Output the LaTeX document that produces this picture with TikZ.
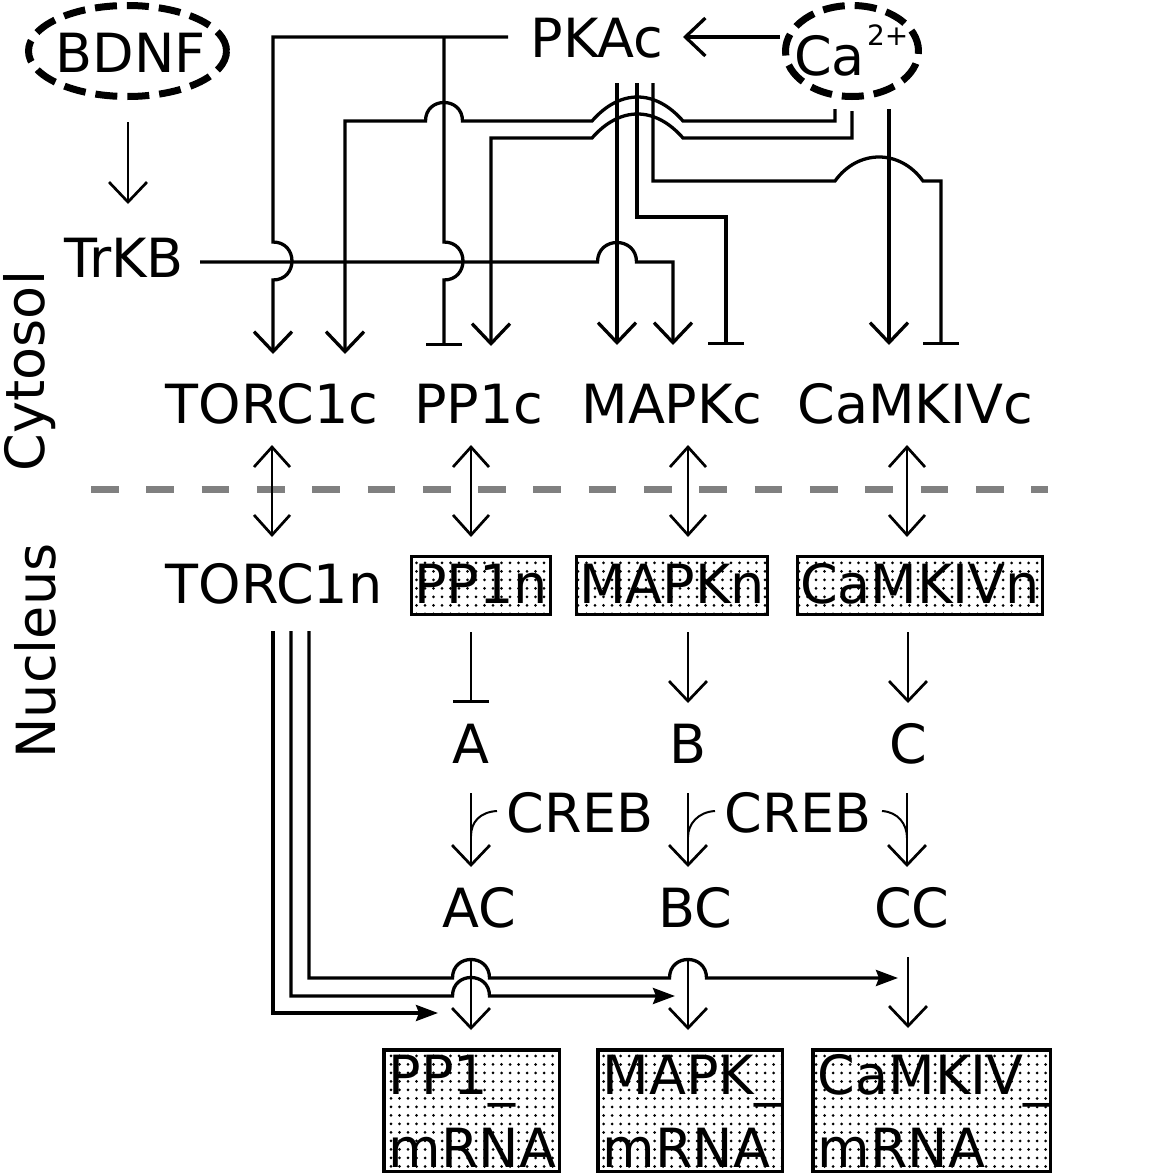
\documentclass[tikz,border=0pt]{standalone}
\usepackage{fontspec}
\setmainfont{DejaVu Sans}
\usetikzlibrary{arrows.meta,patterns.meta,shapes.geometric,calc}
\begin{document}
\begin{tikzpicture}[x=1pt,y=-1pt,
  lbl/.style={font=\fontsize{54}{65}\selectfont, inner sep=0pt, anchor=base},
  dotfill/.style={pattern={Dots[distance=8.5pt,radius=1.5pt]}},
  dotbox/.style={lbl, draw, line width=3pt, dotfill, text height=39pt, text depth=4pt, inner xsep=2.5pt, inner ysep=7.5pt, outer sep=0pt},
  mbox/.style={draw, line width=3.5pt, dotfill, font=\fontsize{54}{73}\selectfont, align=left, text height=41pt, text depth=73pt, inner xsep=5pt, inner ysep=3.75pt, outer sep=0pt, anchor=north west},
  dashell/.style={draw, ellipse, line width=7pt, dash pattern=on 22pt off 10pt, inner sep=0pt, outer sep=0pt},
  conn/.style={line width=3.3pt},
  thinln/.style={line width=2.7pt},
  act/.style={-{Straight Barb[length=20pt,width=38pt]}},
  dact/.style={{Straight Barb[length=20pt,width=36pt]}-{Straight Barb[length=20pt,width=36pt]}},
  inh/.style={-{Bar[width=36pt]}},
  fact/.style={-{Stealth[length=22pt,width=16pt,inset=3pt]}},
]
\fill[white] (0,0) rectangle (1176,1175);
\useasboundingbox (0,0) rectangle (1176,1175);

% compartment divider
\draw[line width=7pt, color=gray, dash pattern=on 27.7pt off 27.6pt] (91,489) -- (1048,489);
\node[lbl, rotate=90] (cyt) at (44,371) {Cytosol};
\node[lbl, rotate=90] (nuc) at (55,651) {Nucleus};

% top nodes
\node[dashell, minimum width=198pt, minimum height=91pt] (BDNFe) at (127.5,51) {};
\node[lbl] (BDNF) at (130.5,72) {BDNF};
\node[dashell, minimum width=133pt, minimum height=91pt] (Cae) at (852,51) {};
\node[lbl, anchor=base west] (Ca) at (794,75) {Ca\kern2pt\raisebox{30pt}{\fontsize{28}{28}\selectfont 2+}};
\node[lbl] (PKAc) at (597,57) {PKAc};
\node[lbl] (TrKB) at (124,277) {TrKB};

% cytosol row
\node[lbl] (TORC1c) at (272,423) {TORC1c};
\node[lbl] (PP1c) at (479,423) {PP1c};
\node[lbl] (MAPKc) at (672,423) {MAPKc};
\node[lbl] (CaMKIVc) at (915,423) {CaMKIVc};

% nucleus row
\node[lbl] (TORC1n) at (274,603) {TORC1n};
\node[dotbox] (PP1n) at (481,603) {PP1n};
\node[dotbox] (MAPKn) at (672,603) {MAPKn};
\node[dotbox] (CaMKIVn) at (920,603) {CaMKIVn};

\node[lbl] (A) at (471,763) {A};
\node[lbl] (B) at (688,763) {B};
\node[lbl] (C) at (908,763) {C};
\node[lbl] (CREB1) at (580,832) {CREB};
\node[lbl] (CREB2) at (798,832) {CREB};
\node[lbl] (AC) at (479,927) {AC};
\node[lbl] (BC) at (695,927) {BC};
\node[lbl] (CC) at (912,927) {CC};

\node[mbox, text width=165.5pt] (PP1m) at (383.75,1049.75) {PP1\_\\mRNA};
\node[mbox, text width=174.5pt] (MAPKm) at (597.75,1049.75) {MAPK\_\\mRNA};
\node[mbox, text width=227.5pt] (CaMKIVm) at (812.75,1049.75) {CaMKIV\_\\mRNA};

% BDNF -> TrKB
\draw[thinln,act] (128,122) -- (128,204);
% Ca -> PKAc
\draw[conn,act] (780,37) -- (683,37);
% PKAc -> TORC1c
\draw[conn,act] (508,37) -- (273,37) -- (273,242) .. controls (298.3,242) and (298.3,280) .. (273,280) -- (273,354);
% PKAc -| PP1c
\draw[conn,inh] (444,37) -- (444,242) .. controls (469.3,242) and (469.3,280) .. (444,280) -- (444,346);
% Ca -> TORC1c
\draw[conn,act] (835,109) -- (835,121) -- (683,121) .. controls (655,89) and (620,89) .. (592,121) -- (462.5,121) .. controls (462.5,96.3) and (425.5,96.3) .. (425.5,121) -- (345,121) -- (345,354);
% Ca -> PP1c
\draw[conn,act] (852,111) -- (852,138) -- (683,138) .. controls (655,106) and (620,106) .. (592,138) -- (491,138) -- (491,346);
% Ca -> CaMKIVc
\draw[conn,act] (889,109) -- (889,345);
% TrKB -> MAPKc
\draw[conn,act] (200,262) -- (597.5,262) .. controls (597.5,236) and (636.5,236) .. (636.5,262) -- (673,262) -- (673,345);
% PKAc -> MAPKc
\draw[conn,act] (617,83) -- (617,345);
% PKAc -| MAPKc
\draw[conn,inh] (637,83) -- (637,217) -- (726,217) -- (726,345);
% PKAc -| CaMKIVc
\draw[conn,inh] (653,83) -- (653,181) -- (835,181) .. controls (858,149) and (900,149) .. (923,181) -- (941,181) -- (941,345);

% translocation
\draw[thinln,dact] (272,445) -- (272,537);
\draw[thinln,dact] (471,445) -- (471,537);
\draw[thinln,dact] (688,445) -- (688,537);
\draw[thinln,dact] (907,445) -- (907,537);

% nucleus
\draw[thinln,inh] (471,632) -- (471,703);
\draw[thinln,act] (688,632) -- (688,703);
\draw[thinln,act] (908,632) -- (908,703);
\draw[thinln,act] (471,793) -- (471,867);
\draw[thinln,act] (688,793) -- (688,867);
\draw[thinln,act] (907,793) -- (907,867);
\draw[line width=2pt] (497,811) .. controls (480,812) and (471,822) .. (471,836);
\draw[line width=2pt] (715,811) .. controls (698,812) and (688,824) .. (688,837);
\draw[line width=2pt] (882,811) .. controls (898,812) and (907,824) .. (907,838);

% TORC1n -> mRNAs
\draw[conn,fact] (273,631) -- (273,1013) -- (438,1013);
\draw[conn,fact] (291,631) -- (291,996) -- (452.5,996) .. controls (452.5,971.3) and (489.5,971.3) .. (489.5,996) -- (675,996);
\draw[conn,fact] (309,631) -- (309,978) -- (452.5,978) .. controls (452.5,953.3) and (489.5,953.3) .. (489.5,978) -- (669.5,978) .. controls (669.5,953.3) and (706.5,953.3) .. (706.5,978) -- (898,978);

% to mRNAs
\draw[thinln,act] (471,958) -- (471,1030);
\draw[thinln,act] (688,958) -- (688,1030);
\draw[thinln,act] (908,957) -- (908,1028);
\end{tikzpicture}
\end{document}
